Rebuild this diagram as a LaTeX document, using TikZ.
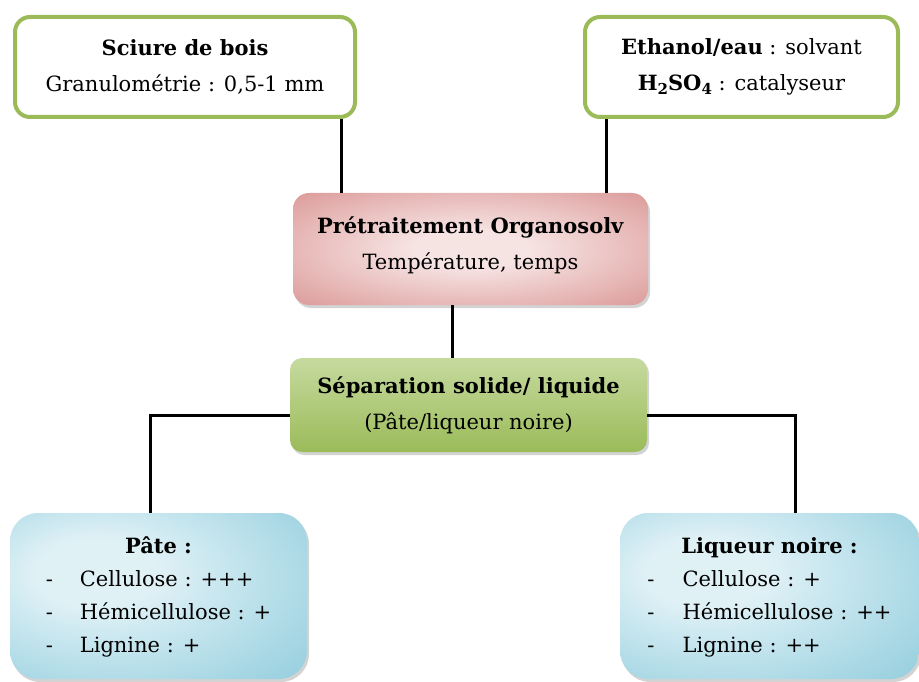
\documentclass[tikz,border=0pt]{standalone}
\usepackage{fontspec}
\setmainfont{DejaVu Serif}
\usetikzlibrary{shadows}

\definecolor{framegreen}{HTML}{9BBB59}
\definecolor{pinkout}{HTML}{D68F8D}
\definecolor{pinkmid}{HTML}{E6B7B6}
\definecolor{pinkin}{HTML}{F6E4E3}
\definecolor{greentop}{HTML}{C6DA9F}
\definecolor{greenbot}{HTML}{9BBB59}
\definecolor{blueout}{HTML}{8FCBDB}
\definecolor{bluemid}{HTML}{B5DEE9}
\definecolor{bluein}{HTML}{E0F1F6}

\pgfdeclareradialshading{pinkshade}{\pgfpoint{0bp}{0bp}}{color(0bp)=(pinkin);
  color(8bp)=(pinkin); color(25bp)=(pinkmid); color(40bp)=(pinkout); color(70bp)=(pinkout)}
\pgfdeclareradialshading{blueshade}{\pgfpoint{-12bp}{8bp}}{color(0bp)=(bluein);
  color(10bp)=(bluein); color(28bp)=(bluemid); color(45bp)=(blueout); color(80bp)=(blueout)}

\newcommand{\chemsub}[1]{\raisebox{-0.2em}{\fontsize{15}{15}\selectfont #1}}

\begin{document}
\begin{tikzpicture}[x=1pt, y=-1pt,
  every node/.style={font=\fontsize{21}{36}\selectfont},
  inputbox/.style={draw=framegreen, line width=4pt, rounded corners=15pt,
    fill=white, align=center, inner sep=0pt},
  procbox/.style={rounded corners=16pt, align=center, inner sep=0pt,
    shading=pinkshade,
    drop shadow={shadow xshift=2pt, shadow yshift=-3pt, opacity=0.35}},
  sepbox/.style={rounded corners=12pt, align=center, inner sep=0pt,
    top color=greentop, bottom color=greenbot,
    drop shadow={shadow xshift=2pt, shadow yshift=-3pt, opacity=0.35}},
  outbox/.style={rounded corners=28pt, inner sep=0pt, minimum height=166pt,
    shading=blueshade,
    font=\fontsize{21}{33}\selectfont,
    drop shadow={shadow xshift=2pt, shadow yshift=-3pt, opacity=0.35}},
  link/.style={line width=3pt, black}]
  \useasboundingbox (0,0) rectangle (919,682);
  % inputs
  \node[inputbox, minimum width=340pt, minimum height=100pt] (sciure) at (185,67)
    {\textbf{Sciure de bois}\\Granulométrie : 0,5-1 mm};
  \node[inputbox, minimum width=313pt, minimum height=100pt] (ethanol) at (741.5,67)
    {\textbf{Ethanol/eau} : solvant\\\textbf{H\chemsub{2}SO\chemsub{4}} : catalyseur};
  % process
  \node[procbox, minimum width=355pt, minimum height=112pt] (pretrait) at (470.5,249)
    {\textbf{Prétraitement Organosolv}\\Température, temps\\[-24pt]};
  \node[sepbox, minimum width=357pt, minimum height=94pt] (separation) at (468.5,405)
    {\textbf{Séparation solide/ liquide}\\(Pâte/liqueur noire)};
  % outputs
  \node[outbox, minimum width=297pt] (pate) at (158.5,596)
    {\begin{tabular}{@{}l@{\hspace{27pt}}l@{}}
       \multicolumn{2}{c}{\textbf{Pâte :}}\\
       - & Cellulose : +++\\
       - & Hémicellulose : +\\
       - & Lignine : +
     \end{tabular}};
  \node[outbox, minimum width=299pt] (liqueur) at (769.5,596)
    {\begin{tabular}{@{}l@{\hspace{28pt}}l@{}}
       \multicolumn{2}{c}{\textbf{Liqueur noire :}}\\
       - & Cellulose : +\\
       - & Hémicellulose : ++\\
       - & Lignine : ++
     \end{tabular}};
  % links
  \coordinate (s1) at ([xshift=-16pt]sciure.south east);
  \coordinate (s2) at ([xshift=23pt]ethanol.south west);
  \coordinate (p1) at ([xshift=-18pt]pretrait.south);
  \draw[link] (s1) -- (s1 |- pretrait.north);
  \draw[link] (s2) -- (s2 |- pretrait.north);
  \draw[link] (p1) -- (p1 |- separation.north);
  \draw[link] ([yshift=-10pt]separation.west) -| ([xshift=-8pt]pate.north);
  \draw[link] ([yshift=-10pt]separation.east) -| ([xshift=26pt]liqueur.north);
\end{tikzpicture}
\end{document}
